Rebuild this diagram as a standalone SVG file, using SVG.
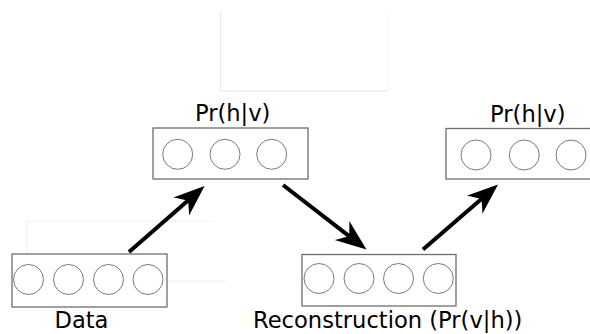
<svg xmlns="http://www.w3.org/2000/svg" width="590" height="334" viewBox="0 0 590 334">
  <style>
    .layer { fill: #ffffff; stroke: #6e6e6e; stroke-width: 1.3; }
    .unit { fill: #ffffff; stroke: #7a7a7a; stroke-width: 1; }
    .label { font-family: "DejaVu Sans", "Liberation Sans", sans-serif; font-size: 22.6px; fill: #000000; text-anchor: middle; }
    .guide { fill: none; stroke: #f0f0f0; stroke-width: 1; }
    .flow { fill: none; stroke: #000000; stroke-width: 4; stroke-linecap: butt; }
  </style>
  <defs>
    <marker id="barb" markerUnits="userSpaceOnUse" markerWidth="40" markerHeight="40" refX="0" refY="0" orient="auto" overflow="visible" viewBox="-20 -20 40 40">
      <path d="M22,0 L-9,-12 Q-3,-4.5 0,0 Q-3,4.5 -9,12 Z" fill="#000000"/>
    </marker>
  </defs>

  <rect width="590" height="334" fill="#ffffff"/>

  <!-- faint construction guides -->
  <g id="guides" class="guide">
    <path d="M27,254 V221 H213"/>
    <path d="M167,281 H227"/>
    <path d="M220.7,12 V91 H387" stroke="#e6e6e6"/>
    <path d="M387,91 V12" stroke="#f7f7f7"/>
  </g>

  <!-- visible layer (data) -->
  <g id="data">
    <rect class="layer" x="12" y="254" width="155" height="53"/>
    <circle class="unit" cx="28.5" cy="279.5" r="15"/>
    <circle class="unit" cx="68.5" cy="279.5" r="15"/>
    <circle class="unit" cx="108.5" cy="279.5" r="15"/>
    <circle class="unit" cx="148" cy="279.5" r="15"/>
    <text class="label" x="81.5" y="328">Data</text>
  </g>

  <!-- hidden layer, first pass -->
  <g id="hidden1">
    <text class="label" x="232.7" y="121">Pr(h|v)</text>
    <rect class="layer" x="153" y="128" width="155" height="51"/>
    <circle class="unit" cx="177.7" cy="154.3" r="15"/>
    <circle class="unit" cx="225" cy="154.3" r="15"/>
    <circle class="unit" cx="271.7" cy="154.3" r="15"/>
  </g>

  <!-- visible layer (reconstruction) -->
  <g id="reconstruction">
    <rect class="layer" x="302" y="254.5" width="154" height="51.5"/>
    <circle class="unit" cx="319" cy="278.5" r="15"/>
    <circle class="unit" cx="359" cy="278.5" r="15"/>
    <circle class="unit" cx="398.5" cy="278.5" r="15"/>
    <circle class="unit" cx="438.3" cy="278.5" r="15"/>
    <text class="label" x="387.7" y="328">Reconstruction (Pr(v|h))</text>
  </g>

  <!-- hidden layer, second pass -->
  <g id="hidden2">
    <text class="label" x="527.8" y="121.5">Pr(h|v)</text>
    <rect class="layer" x="446" y="128.5" width="160" height="50.5"/>
    <circle class="unit" cx="476" cy="155" r="15"/>
    <circle class="unit" cx="524.3" cy="155" r="15"/>
    <circle class="unit" cx="571" cy="155" r="15"/>
  </g>

  <!-- sampling steps -->
  <g id="connectors">
    <path class="flow" d="M129,252 L188,200.5" marker-end="url(#barb)"/>
    <path class="flow" d="M283,185 L349.1,236.1" marker-end="url(#barb)"/>
    <path class="flow" d="M423,249.5 L481.4,198.9" marker-end="url(#barb)"/>
  </g>
</svg>
